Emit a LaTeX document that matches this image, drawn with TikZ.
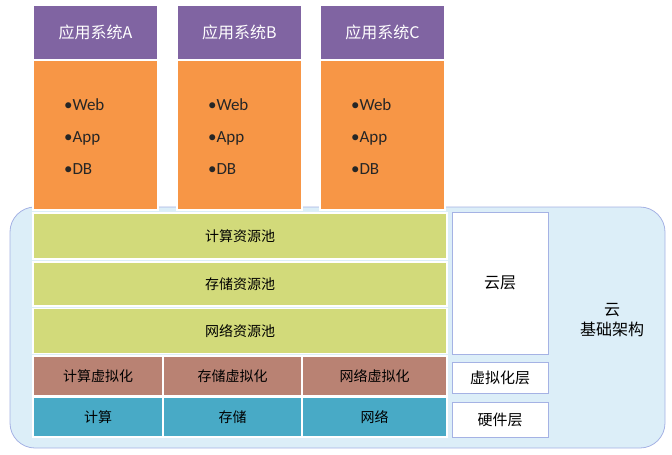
\documentclass[tikz,border=0pt]{standalone}
\usepackage{fontspec}
\setmainfont{Noto Sans CJK SC}
\newfontfamily\listfont{Carlito}
\definecolor{appPurple}{RGB}{128,100,162}
\definecolor{appOrange}{RGB}{247,150,70}
\definecolor{poolGreen}{RGB}{210,218,122}
\definecolor{virtBrown}{RGB}{185,130,115}
\definecolor{hwTeal}{RGB}{72,170,198}
\definecolor{cloudFill}{RGB}{220,238,248}
\definecolor{cloudLine}{RGB}{165,178,228}
\begin{document}
\begin{tikzpicture}[x=1pt, y=-1pt, font=\fontsize{14}{17}\selectfont]
    \tikzset{blk/.style={rectangle, draw=white, line width=1.5pt, inner sep=0pt, text centered},
             layer/.style={rectangle, draw=cloudLine, fill=white, thick, inner sep=0pt, text centered}}
    \useasboundingbox (0,0) rectangle (672,455);

    % cloud frame
    \node[draw=cloudLine, fill=cloudFill, thick, rounded corners=25pt, minimum width=655pt, minimum height=241pt] (cloud) at (337.5,327.5) {};
    \node[align=center, font=\fontsize{16}{20}\selectfont] (cloudtxt) at (612,320) {云\\基础架构};

    % applications
    \foreach \x/\n in {95.5/A, 239.5/B, 382.5/C} {
        \node[blk, fill=appPurple, text=white, minimum width=125pt, minimum height=55pt, font=\fontsize{16}{19}\selectfont] (head\n) at (\x,32.5) {应用系统\n};
        \node[blk, fill=appOrange, minimum width=125pt, minimum height=150pt] (body\n) at (\x,135) {};
        \node[align=left, font=\listfont\fontsize{17}{32}\selectfont, anchor=west, text=black!85] (list\n) at (\x-35,137) {•Web\\•App\\•DB};
    }

    % resource pools
    \node[blk, fill=poolGreen, minimum width=414pt, minimum height=46pt] (pool1) at (240,236) {计算资源池};
    \node[blk, fill=poolGreen, minimum width=414pt, minimum height=44pt] (pool2) at (240,284) {存储资源池};
    \node[blk, fill=poolGreen, minimum width=414pt, minimum height=45pt] (pool3) at (240,331) {网络资源池};

    % virtualisation and hardware
    \node[blk, fill=virtBrown, minimum width=130pt, minimum height=40pt] (v1) at (98,376) {计算虚拟化};
    \node[blk, fill=virtBrown, minimum width=139pt, minimum height=40pt] (v2) at (232.5,376) {存储虚拟化};
    \node[blk, fill=virtBrown, minimum width=145pt, minimum height=40pt] (v3) at (374.5,376) {网络虚拟化};
    \node[blk, fill=hwTeal, minimum width=130pt, minimum height=40pt] (h1) at (98,417) {计算};
    \node[blk, fill=hwTeal, minimum width=139pt, minimum height=40pt] (h2) at (232.5,417) {存储};
    \node[blk, fill=hwTeal, minimum width=145pt, minimum height=40pt] (h3) at (374.5,417) {网络};

    % layer labels
    \node[layer, minimum width=96pt, minimum height=142pt, font=\fontsize{16}{19}\selectfont] (cloudlayer) at (500,283) {云层};
    \node[layer, minimum width=96pt, minimum height=31pt, font=\fontsize{15}{18}\selectfont] (virtlayer) at (500,377.5) {虚拟化层};
    \node[layer, minimum width=96pt, minimum height=35pt, font=\fontsize{15}{18}\selectfont] (hwlayer) at (500,419.5) {硬件层};
\end{tikzpicture}
\end{document}
